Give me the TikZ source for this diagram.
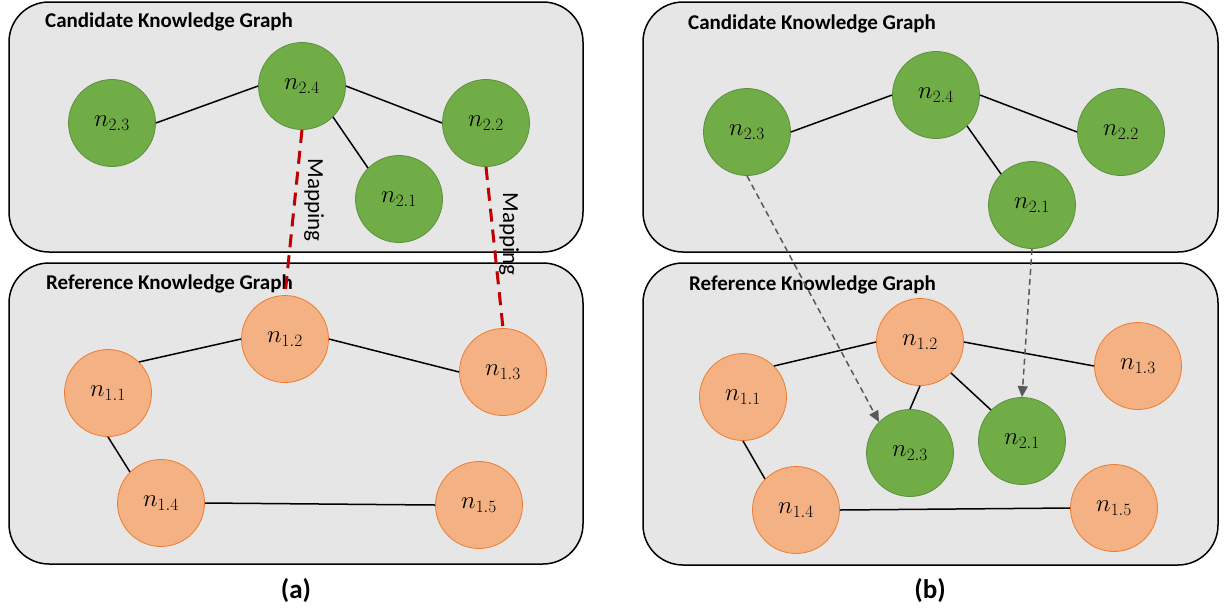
\documentclass[tikz,border=0pt]{standalone}
\usepackage[no-math]{fontspec}
\setmainfont{Carlito}
\usetikzlibrary{arrows.meta}
\newcommand{\nlab}[1]{$n_{\hbox{\fontsize{17}{17}\selectfont$#1$}}$}
\definecolor{gfill}{HTML}{70AD47}
\definecolor{gdraw}{HTML}{5E8F3E}
\definecolor{ofill}{HTML}{F4B183}
\definecolor{odraw}{HTML}{ED7D31}
\definecolor{boxfill}{HTML}{E6E6E6}
\definecolor{mapred}{HTML}{C00000}
\definecolor{arrgray}{HTML}{595959}
\begin{document}
\begin{tikzpicture}[x=1pt,y=-1pt,
  panel/.style={draw=black,line width=1.5pt,fill=boxfill,rounded corners=40pt},
  gnode/.style={circle,fill=gfill,draw=gdraw,line width=0.8pt,minimum size=87pt,inner sep=0pt,font=\fontsize{25}{28}\selectfont},
  onode/.style={circle,fill=ofill,draw=odraw,line width=0.8pt,minimum size=87pt,inner sep=0pt,font=\fontsize{25}{28}\selectfont},
  link/.style={draw=black,line width=1.5pt},
  mapline/.style={draw=mapred,line width=3pt,dash pattern=on 13pt off 8pt},
  maplabel/.style={font=\fontsize{23}{26}\selectfont,rotate=-90,inner sep=0pt},
  migrate/.style={draw=arrgray,line width=1.5pt,dash pattern=on 6pt off 4pt,-{Triangle[length=11pt,width=10pt]}},
  title/.style={font=\bfseries\fontsize{21}{25}\selectfont,anchor=base west,inner sep=0pt},
  caption/.style={font=\bfseries\fontsize{27}{30}\selectfont,inner sep=0pt}
]
\useasboundingbox (0,0) rectangle (1224,614);

% panels
\draw[panel] (9,2) rectangle (583,252);
\draw[panel] (9,263) rectangle (583,564);
\draw[panel] (643,2) rectangle (1218,252);
\draw[panel] (643,263) rectangle (1218,565);

% titles
\node[title] (ta1) at (45,27) {Candidate Knowledge Graph};
\node[title] (ta2) at (46,289) {Reference Knowledge Graph};
\node[title] (tb1) at (688,29) {Candidate Knowledge Graph};
\node[title] (tb2) at (689,290) {Reference Knowledge Graph};

% (a) nodes
\node[gnode] (a23) at (112,123) {\nlab{2.3}};
\node[gnode] (a24) at (302,86) {\nlab{2.4}};
\node[gnode] (a22) at (486,123) {\nlab{2.2}};
\node[gnode] (a21) at (399,199) {\nlab{2.1}};
\node[onode] (a12) at (285,339) {\nlab{1.2}};
\node[onode] (a11) at (108,393) {\nlab{1.1}};
\node[onode] (a13) at (503,372) {\nlab{1.3}};
\node[onode] (a14) at (161,503) {\nlab{1.4}};
\node[onode] (a15) at (479,505) {\nlab{1.5}};

\draw[link] (a23.east) -- (a24.west);
\draw[link] (a24.east) -- (a22.west);
\draw[link] (a24.south east) -- (a21.north west);
\draw[link] (a11.north east) -- (a12.west);
\draw[link] (a12.east) -- (a13.west);
\draw[link] (a11.south) -- (a14.north west);
\draw[link] (a14.east) -- (a15.west);

\draw[mapline] (a24.south) -- (a12.north);
\draw[mapline] (a22.south) -- (a13.north);
\node[maplabel] (ml1) at (314,200) {Mapping};
\node[maplabel] (ml2) at (509,234) {Mapping};

% (b) nodes
\node[gnode] (b23) at (747,132) {\nlab{2.3}};
\node[gnode] (b24) at (936,95) {\nlab{2.4}};
\node[gnode] (b22) at (1121,132) {\nlab{2.2}};
\node[gnode] (b21) at (1032,205) {\nlab{2.1}};
\node[onode] (b12) at (920,342) {\nlab{1.2}};
\node[onode] (b11) at (743,397) {\nlab{1.1}};
\node[onode] (b13) at (1138,366) {\nlab{1.3}};
\node[onode] (b14) at (796,510) {\nlab{1.4}};
\node[onode] (b15) at (1114,508) {\nlab{1.5}};
\node[gnode] (c23) at (910,453) {\nlab{2.3}};
\node[gnode] (c21) at (1022,441) {\nlab{2.1}};

\draw[link] (b23.east) -- (b24.west);
\draw[link] (b24.east) -- (b22.west);
\draw[link] (b24.south east) -- (b21.north west);
\draw[link] (b11.north east) -- (b12.west);
\draw[link] (b12.east) -- (b13.west);
\draw[link] (b11.south) -- (b14.north west);
\draw[link] (b14.east) -- (b15.west);
\draw[link] (b12.south) -- (c23.north);
\draw[link] (b12.south east) -- (c21.north west);

\draw[migrate] (b23.south) -- (c23.north west);
\draw[migrate] (b21.south) -- (c21.north);

% captions
\node[caption] (capa) at (296,591) {(a)};
\node[caption] (capb) at (930,591) {(b)};
\end{tikzpicture}
\end{document}
